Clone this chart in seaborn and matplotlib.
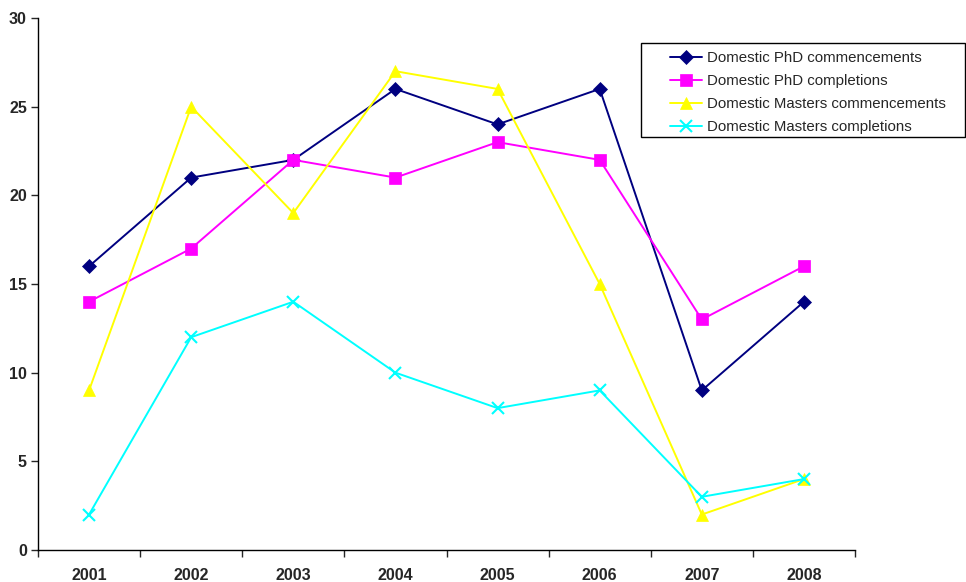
import matplotlib
matplotlib.use("Agg")
import matplotlib.pyplot as plt
from matplotlib.patches import Rectangle
import numpy as np
import seaborn as sns

years = ["2001", "2002", "2003", "2004", "2005", "2006", "2007", "2008"]
phd_comm = [16, 21, 22, 26, 24, 26, 9, 14]
phd_comp = [14, 17, 22, 21, 23, 22, 13, 16]
masters_comm = [9, 25, 19, 27, 26, 15, 2, 4]
masters_comp = [2, 12, 14, 10, 8, 9, 3, 4]

series = [
    ("Domestic PhD commencements", phd_comm, "#000080", "D", 7),
    ("Domestic PhD completions", phd_comp, "#FF00FF", "s", 9),
    ("Domestic Masters commencements", masters_comm, "#FFFF00", "^", 9),
    ("Domestic Masters completions", masters_comp, "#00FFFF", "x", 9),
]

W, H = 966, 582

sns.set_style("white")
plt.rcParams["font.family"] = ["Liberation Sans", "DejaVu Sans"]

fig = plt.figure(figsize=(W / 100, H / 100), dpi=100)
ax = fig.add_axes([38 / W, 1 - 550 / H, (855 - 38) / W, (550 - 18) / H])

x = np.arange(len(years))
for label, vals, color, marker, ms in series:
    sns.lineplot(x=x, y=vals, ax=ax, color=color, marker=marker, markersize=ms,
                 markeredgecolor=color, markeredgewidth=1.5 if marker == "x" else 0.5,
                 linewidth=1.4, label=label)

ax.set_xlim(-0.5, len(years) - 0.5)
ax.set_ylim(0, 30)
ax.set_yticks(range(0, 31, 5))
ax.set_xticks(np.arange(-0.5, len(years)), minor=False)
ax.set_xticklabels([])
ax.set_xticks(x, minor=True)
ax.set_xticklabels(years, minor=True)
ax.tick_params(axis="x", which="major", direction="out", length=5, width=1, bottom=True)
ax.tick_params(axis="x", which="minor", length=0, pad=13)
ax.tick_params(axis="y", direction="out", length=5, width=1, left=True, pad=3)
for t in ax.get_xticklabels(minor=True) + ax.get_yticklabels():
    t.set_fontweight("bold")
    t.set_fontsize(11.5)

for side in ["top", "right"]:
    ax.spines[side].set_visible(False)
for side in ["left", "bottom"]:
    ax.spines[side].set_color("black")
    ax.spines[side].set_linewidth(1)

# legend entries without frame, frame drawn as a separate box
leg = ax.legend(loc="upper left", bbox_to_anchor=(670 / W, 1 - 51 / H),
                bbox_transform=fig.transFigure, fontsize=10.8, frameon=False,
                borderpad=0, labelspacing=0.6, handlelength=2.15,
                handletextpad=0.3, borderaxespad=0)
fig.patches.append(Rectangle((641 / W, 1 - 137 / H), (965 - 641) / W, (137 - 43) / H,
                             transform=fig.transFigure, fill=False,
                             edgecolor="black", linewidth=1))

fig.savefig("out.png", dpi=100)
